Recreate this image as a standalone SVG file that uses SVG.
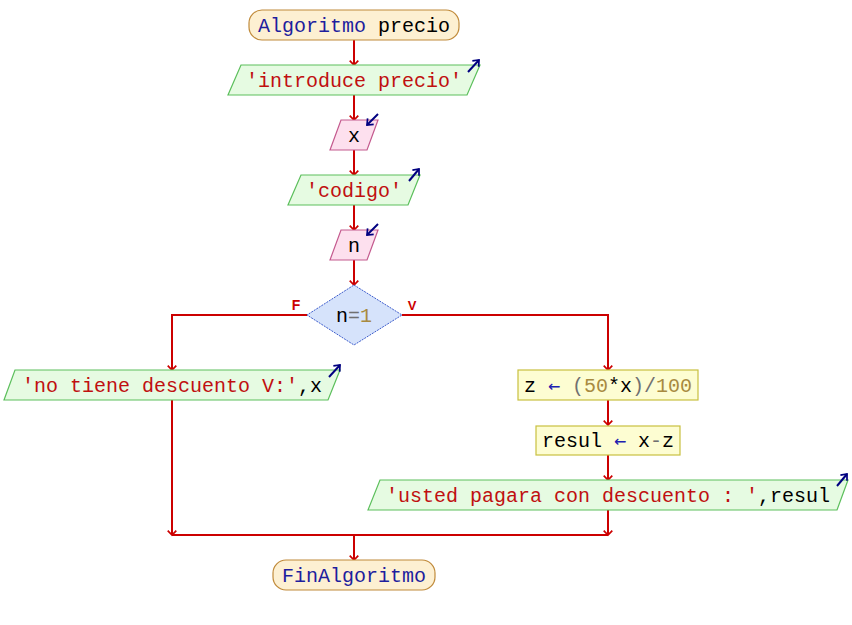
<svg xmlns="http://www.w3.org/2000/svg" width="852" height="625" viewBox="0 0 852 625">
  <defs>
    <marker id="arr" markerWidth="12" markerHeight="12" refX="0" refY="0" viewBox="-7 -7 14 14" orient="auto" markerUnits="userSpaceOnUse">
      <path d="M-5,-5 L0,0 L-5,5" fill="none" stroke="#cc0000" stroke-width="2"/>
    </marker>
    <marker id="io" markerWidth="12" markerHeight="12" refX="0" refY="0" viewBox="-7 -7 14 14" orient="auto" markerUnits="userSpaceOnUse">
      <path d="M-6,-5 L0,0 L-6,5" fill="none" stroke="#000080" stroke-width="2"/>
    </marker>
  </defs>
  <style>
    text { font-family: "Liberation Mono", "Courier New", monospace; font-size: 20px; text-anchor: middle; fill: #000000; }
    .term { fill: #fdf0d2; stroke: #c08a3a; stroke-width: 1.2; }
    .out { fill: #e6fbe2; stroke: #5cbf5c; stroke-width: 1.2; }
    .in { fill: #fde0ee; stroke: #c45a8e; stroke-width: 1.2; }
    .dec { fill: #d6e3fb; stroke: #3c5ccc; stroke-width: 1; stroke-dasharray: 2 1; }
    .asg { fill: #fdfdd2; stroke: #c8c040; stroke-width: 1.2; }
    .kw { fill: #1e1e9e; }
    .str { fill: #c01010; }
    .num { fill: #a88a40; }
    .op { fill: #707070; }
    .asn { fill: #2020b0; font-family: "DejaVu Sans Mono", monospace; font-size: 20px; }
    .ioarrow { fill: none; stroke: #000080; stroke-width: 2; marker-end: url(#io); }
    .edge { fill: none; stroke: #cc0000; stroke-width: 2; }
    .lbl { font-family: "Liberation Sans", Arial, sans-serif; font-size: 14px; font-weight: bold; fill: #cc0000; }
  </style>

  <g id="connectors">
    <path class="edge" d="M354,40 V65" marker-end="url(#arr)"/>
    <path class="edge" d="M354,95 V120" marker-end="url(#arr)"/>
    <path class="edge" d="M354,150 V175" marker-end="url(#arr)"/>
    <path class="edge" d="M354,205 V230" marker-end="url(#arr)"/>
    <path class="edge" d="M354,260 V285" marker-end="url(#arr)"/>
    <path class="edge" d="M307,315 H172 V370" marker-end="url(#arr)"/>
    <path class="edge" d="M402,315 H608 V370" marker-end="url(#arr)"/>
    <path class="edge" d="M608,400 V425" marker-end="url(#arr)"/>
    <path class="edge" d="M608,455 V480" marker-end="url(#arr)"/>
    <path class="edge" d="M172,400 V535" marker-end="url(#arr)"/>
    <path class="edge" d="M608,510 V535" marker-end="url(#arr)"/>
    <path class="edge" d="M172,535 H608"/>
    <path class="edge" d="M354,535 V560" marker-end="url(#arr)"/>
    <text class="lbl" x="296" y="310">F</text>
    <text class="lbl" x="412" y="310" style="font-size:13px">V</text>
  </g>

  <g id="start">
    <rect class="term" x="249" y="10" width="210" height="30" rx="13"/>
    <text x="354" y="32"><tspan class="kw">Algoritmo</tspan> precio</text>
  </g>

  <g id="out1">
    <polygon class="out" points="241,65 480,65 467,95 228,95"/>
    <text x="354" y="87" class="str">'introduce precio'</text>
    <path class="ioarrow" d="M468,72 L479,60"/>
  </g>

  <g id="in1">
    <polygon class="in" points="341,120 378,120 367,150 330,150"/>
    <text x="354" y="142">x</text>
    <path class="ioarrow" d="M378,114 L367,125"/>
  </g>

  <g id="out2">
    <polygon class="out" points="301,175 420,175 408,205 288,205"/>
    <text x="354" y="197" class="str">'codigo'</text>
    <path class="ioarrow" d="M409,181 L419,169"/>
  </g>

  <g id="in2">
    <polygon class="in" points="341,230 378,230 367,260 330,260"/>
    <text x="354" y="252">n</text>
    <path class="ioarrow" d="M378,224 L367,235"/>
  </g>

  <g id="cond">
    <polygon class="dec" points="354,285 402,315 354,345 307,315"/>
    <text x="354" y="322">n<tspan class="op">=</tspan><tspan class="num">1</tspan></text>
  </g>

  <g id="outNo">
    <polygon class="out" points="15,370 340,370 328,400 4,400"/>
    <text x="172" y="392"><tspan class="str">'no tiene descuento V:'</tspan>,x</text>
    <path class="ioarrow" d="M329,377 L340,365"/>
  </g>

  <g id="assignZ">
    <rect class="asg" x="518" y="370" width="180" height="30"/>
    <text x="608" y="392">z <tspan class="asn">←</tspan> <tspan class="op">(</tspan><tspan class="num">50</tspan>*x<tspan class="op">)/</tspan><tspan class="num">100</tspan></text>
  </g>

  <g id="assignResul">
    <rect class="asg" x="536" y="426" width="144" height="29"/>
    <text x="608" y="447">resul <tspan class="asn">←</tspan> x<tspan class="op">-</tspan>z</text>
  </g>

  <g id="outYes">
    <polygon class="out" points="380,480 848,480 837,510 368,510"/>
    <text x="608" y="502"><tspan class="str">'usted pagara con descuento : '</tspan>,resul</text>
    <path class="ioarrow" d="M837,486 L847,474"/>
  </g>

  <g id="end">
    <rect class="term" x="273" y="560" width="162" height="30" rx="13"/>
    <text x="354" y="582" class="kw">FinAlgoritmo</text>
  </g>
</svg>
